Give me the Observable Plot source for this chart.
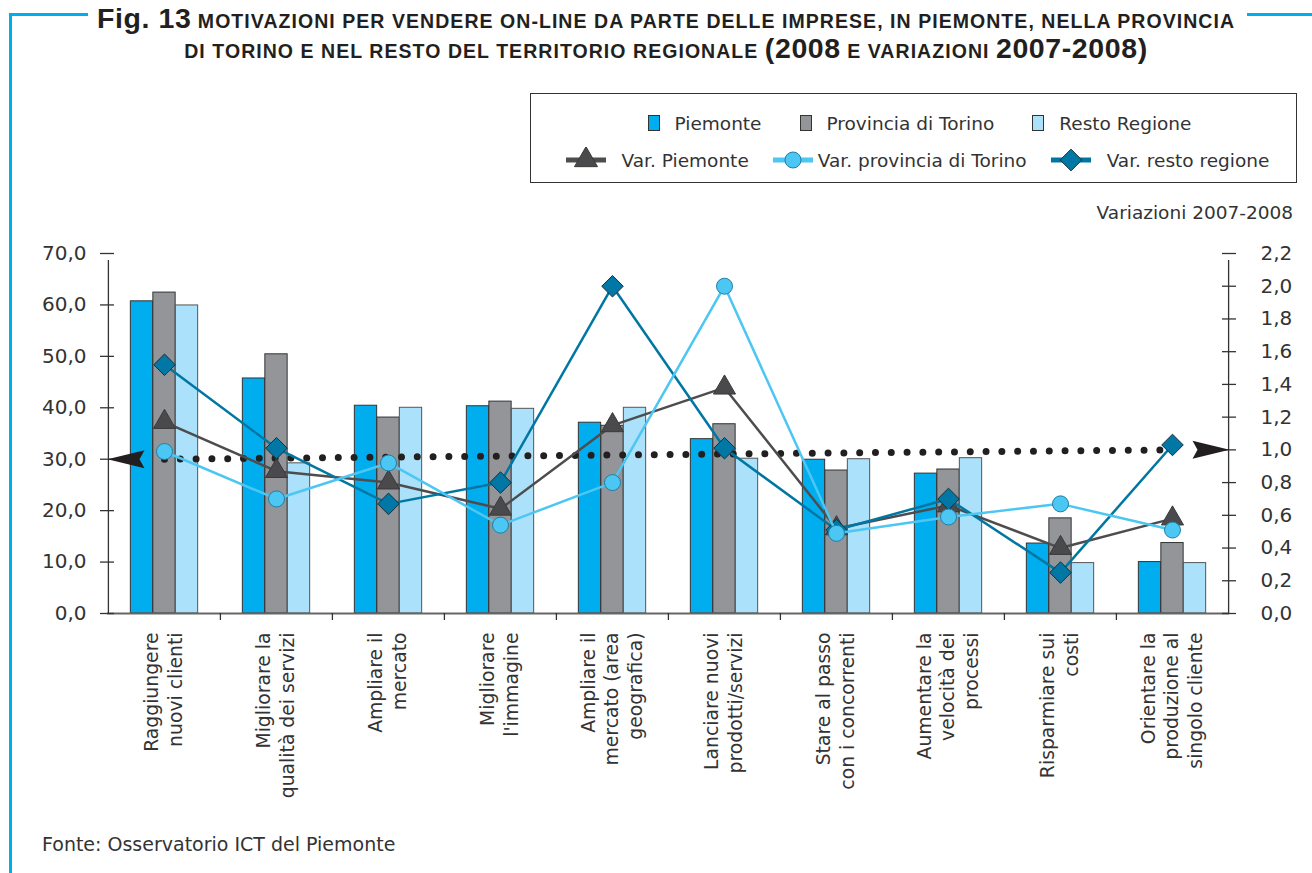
<!DOCTYPE html>
<html><head><meta charset="utf-8">
<script src="https://cdn.jsdelivr.net/npm/d3@7"></script>
<script src="https://cdn.jsdelivr.net/npm/@observablehq/plot@0.6"></script>
<style>
body{margin:0;background:#fff;font-family:"DejaVu Sans",sans-serif;color:#333;}
#page{position:relative;width:1312px;height:873px;overflow:hidden;background:#fff;}
.bl{position:absolute;background:#00aeef;}
#title{position:absolute;left:20px;width:1292px;top:0;font-family:"Liberation Sans",Arial,sans-serif;font-weight:bold;color:#231f20;font-size:19.5px;letter-spacing:1.05px;}
.tl{position:absolute;left:0;width:100%;text-align:center;line-height:30px;white-space:nowrap;}
.big{font-size:28.5px;letter-spacing:0.6px;}
.sm{font-size:19.5px;}
#legend{position:absolute;left:530px;top:93px;width:767px;height:90px;box-sizing:border-box;border:1.5px solid #333;font-size:18.5px;color:#333;}
.row{position:absolute;left:0;width:100%;height:26px;display:flex;justify-content:center;align-items:center;white-space:nowrap;}
.it{display:flex;align-items:center;}
.it svg{display:block;}
#varlab{position:absolute;right:19px;top:202px;font-size:18.5px;color:#333;}
#chart{position:absolute;left:0;top:228px;}
#footer{position:absolute;left:42px;top:833px;font-size:19px;color:#333;}
</style></head><body>
<div id="page">
  <div class="bl" style="left:9px;top:13px;width:3px;height:860px"></div>
  <div class="bl" style="left:9px;top:13px;width:79px;height:3px"></div>
  <div class="bl" style="left:1247px;top:13px;width:65px;height:3px"></div>
  <div id="title">
    <div class="tl" style="top:3px"><span class="big">Fig. 13</span> <span class="sm">MOTIVAZIONI PER VENDERE ON-LINE DA PARTE DELLE IMPRESE, IN PIEMONTE, NELLA PROVINCIA</span></div>
    <div class="tl" style="top:33px"><span class="sm">DI TORINO E NEL RESTO DEL TERRITORIO REGIONALE</span> <span class="big">(2008</span> <span class="sm">E VARIAZIONI</span> <span class="big">2007-2008)</span></div>
  </div>
  <div id="legend"></div>
  <div id="varlab">Variazioni 2007-2008</div>
  <div id="chart"></div>
  <div id="footer">Fonte: Osservatorio ICT del Piemonte</div>
</div>
<script>
// ---- data ----
const categorie = [
  "Raggiungere\nnuovi clienti",
  "Migliorare la\nqualità dei servizi",
  "Ampliare il\nmercato",
  "Migliorare\nl'immagine",
  "Ampliare il\nmercato (area\ngeografica)",
  "Lanciare nuovi\nprodotti/servizi",
  "Stare al passo\ncon i concorrenti",
  "Aumentare la\nvelocità dei\nprocessi",
  "Risparmiare sui\ncosti",
  "Orientare la\nproduzione al\nsingolo cliente"
];
const piemonte = [60.7, 45.7, 40.4, 40.3, 37.1, 33.9, 29.9, 27.2, 13.6, 10.0];
const provinciaTorino = [62.4, 50.4, 38.1, 41.2, 36.5, 36.8, 27.8, 28.0, 18.5, 13.7];
const restoRegione = [59.9, 29.2, 40.0, 39.8, 40.0, 30.1, 30.0, 30.2, 9.8, 9.8];
const varPiemonte = [1.17, 0.87, 0.80, 0.64, 1.15, 1.38, 0.52, 0.66, 0.40, 0.58];
const varTorino = [0.99, 0.70, 0.92, 0.54, 0.80, 2.00, 0.49, 0.59, 0.67, 0.51];
const varResto = [1.52, 1.01, 0.67, 0.80, 2.00, 1.01, 0.51, 0.70, 0.25, 1.03];
const serieBarre = ["Piemonte", "Provincia di Torino", "Resto Regione"];
const serieLinee = ["Var. Piemonte", "Var. provincia di Torino", "Var. resto regione"];
const tickSinistra = [0, 10, 20, 30, 40, 50, 60, 70];
const tickDestra = [0, 0.2, 0.4, 0.6, 0.8, 1.0, 1.2, 1.4, 1.6, 1.8, 2.0, 2.2];
const riferimento = [30, 1.0]; // left-axis value, right-axis value

// ---- styles ----
const coloriBarre = ["#00aeef", "#939598", "#abe1fa"];
const coloriLinee = ["#4d4d4f", "#4cc6f2", "#0077a3"];
const W = 1312, H = 585, ML = 107, MR = 83, MT = 25, MB = 200;
const plotW = W - ML - MR;
const bw = plotW / categorie.length;
const k = 70 / 2.2;
const fmt = d => d.toFixed(1).replace(".", ",");

const rows = categorie.map((c, i) => ({
  c, p: piemonte[i], t: provinciaTorino[i], r: restoRegione[i],
  vp: varPiemonte[i] * k, vt: varTorino[i] * k, vr: varResto[i] * k
}));

const groupW = 67.5, barW = groupW / 3, off0 = (bw - groupW) / 2;
const barMark = (key, j) => Plot.barY(rows, {
  x: "c", y: key, fill: coloriBarre[j], stroke: j === 2 ? "#555" : "#333", strokeWidth: 1,
  insetLeft: off0 + j * barW, insetRight: bw - off0 - (j + 1) * barW
});

const arrowLeft = {draw(ctx) { ctx.moveTo(0, 0); ctx.lineTo(37, -9); ctx.lineTo(32, 0); ctx.lineTo(37, 9); ctx.closePath(); }};
const arrowRight = {draw(ctx) { ctx.moveTo(0, 0); ctx.lineTo(-37, -9); ctx.lineTo(-32, 0); ctx.lineTo(-37, 9); ctx.closePath(); }};

const chart = Plot.plot({
  width: W, height: H, marginLeft: ML, marginRight: MR, marginTop: MT, marginBottom: MB,
  style: {fontFamily: "DejaVu Sans, sans-serif", fontSize: "20px", color: "#333", background: "transparent", overflow: "visible"},
  x: {domain: categorie, padding: 0, axis: null},
  y: {domain: [0, 70], axis: null},
  marks: [
    barMark("p", 0), barMark("t", 1), barMark("r", 2),
    // axis lines
    Plot.ruleY([0], {stroke: "#666", strokeWidth: 2}),
    Plot.ruleX([categorie[0]], {dx: -bw / 2, y1: 0, y2: 70, insetBottom: -7, stroke: "#333", strokeWidth: 1.3}),
    Plot.ruleX([categorie[categorie.length - 1]], {dx: bw / 2, y1: 0, y2: 70, insetBottom: -7, stroke: "#333", strokeWidth: 1.3}),
    Plot.ruleX(categorie.slice(1), {dx: -bw / 2, y1: 0, y2: 0, insetBottom: -7, stroke: "#333", strokeWidth: 1.3}),
    Plot.ruleY(tickSinistra, {insetLeft: -7, insetRight: plotW - 7, stroke: "#333", strokeWidth: 1.3}),
    Plot.ruleY(tickDestra.map(v => v * k), {insetLeft: plotW - 7, insetRight: -7, stroke: "#333", strokeWidth: 1.3}),
    Plot.axisY({ticks: tickSinistra, tickFormat: fmt, tickSize: 0, tickPadding: 21, label: null, fill: "#333", letterSpacing: "1px"}),
    Plot.axisY({anchor: "right", ticks: tickDestra.map(v => v * k), tickFormat: d => fmt(d / k), tickSize: 0, tickPadding: 31, label: null, textAnchor: "start", fill: "#333"}),
    // reference dotted line
    Plot.link([riferimento], {
      x1: () => categorie[0], x2: () => categorie[categorie.length - 1],
      y1: d => d[0], y2: d => d[1] * k,
      stroke: "#231f20", strokeWidth: 7, strokeDasharray: "0 15.8", strokeLinecap: "round"
    }),
    Plot.dot([riferimento], {y: d => d[0], frameAnchor: "left", symbol: arrowLeft, fill: "#231f20", stroke: "none"}),
    Plot.dot([riferimento], {y: d => d[1] * k, frameAnchor: "right", symbol: arrowRight, fill: "#231f20", stroke: "none"}),
    // lines
    Plot.line(rows, {x: "c", y: "vp", stroke: coloriLinee[0], strokeWidth: 2.5}),
    Plot.dot(rows, {x: "c", y: "vp", symbol: "triangle", r: 8.2, fill: "#4a4a4c", stroke: "#3a3a3a", strokeWidth: 1}),
    Plot.line(rows, {x: "c", y: "vr", stroke: coloriLinee[2], strokeWidth: 2.5}),
    Plot.dot(rows, {x: "c", y: "vr", symbol: "diamond2", r: 9.7, fill: "#0077a4", stroke: "#16303d", strokeWidth: 1}),
    Plot.line(rows, {x: "c", y: "vt", stroke: coloriLinee[1], strokeWidth: 2.5}),
    Plot.dot(rows, {x: "c", y: "vt", symbol: "circle", r: 8, fill: "#4cc7f4", stroke: "#1f7ea6", strokeWidth: 1}),
    // category labels
    Plot.text(rows, {x: "c", text: "c", frameAnchor: "bottom", rotate: -90, textAnchor: "end", lineAnchor: "middle",
      dy: 19, dx: -2, fontSize: 18.8, lineHeight: 1.25, fill: "#333"})
  ]
});
document.getElementById("chart").appendChild(chart);

// ---- legend ----
const sym = (type, size) => d3.symbol().type(type).size(size)();
const leg = document.getElementById("legend");
const row1 = document.createElement("div");
row1.className = "row"; row1.style.top = "16px"; row1.style.paddingLeft = "12px"; row1.style.boxSizing = "border-box";
row1.innerHTML = serieBarre.map((n, i) =>
  `<span class="it" style="margin:0 19px"><svg width="12" height="16"><rect x="0.5" y="0.5" width="11" height="15" fill="${coloriBarre[i]}" stroke="#333"/></svg><span style="margin-left:15px">${n}</span></span>`
).join("");
const row2 = document.createElement("div");
row2.className = "row"; row2.style.top = "53px"; row2.style.paddingLeft = "8px"; row2.style.boxSizing = "border-box";
const legSym = [
  {p: sym(d3.symbolTriangle, 230), fill: "#4a4a4c", stroke: "#3a3a3a"},
  {p: sym(d3.symbolCircle, 201), fill: "#4cc7f4", stroke: "#1f7ea6"},
  {p: sym(d3.symbolDiamond2, 300), fill: "#0077a4", stroke: "#16303d"}
];
row2.innerHTML = serieLinee.map((n, i) =>
  `<span class="it" style="margin:0 12px"><svg width="40" height="26"><line x1="0" x2="40" y1="13" y2="13" stroke="${coloriLinee[i]}" stroke-width="5"/><path transform="translate(20,13)" d="${legSym[i].p}" fill="${legSym[i].fill}" stroke="${legSym[i].stroke}"/></svg><span style="margin-left:${i === 1 ? 5 : 16}px">${n}</span></span>`
).join("");
leg.appendChild(row1);
leg.appendChild(row2);
</script>
</body></html>
